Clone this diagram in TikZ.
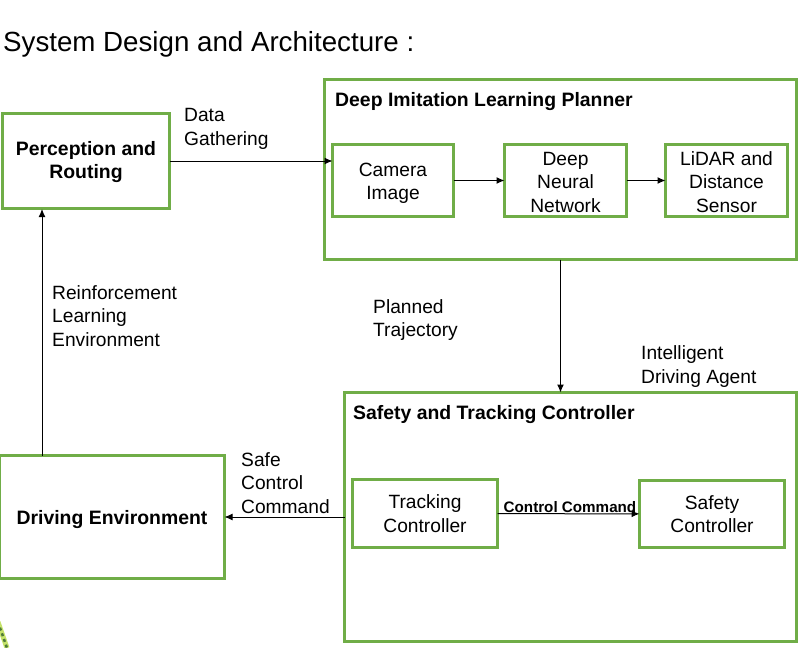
\documentclass[tikz,border=0pt]{standalone}
\usepackage{fontspec}
\setmainfont{Liberation Sans}
\usetikzlibrary{arrows.meta}
\definecolor{boxgreen}{HTML}{70AD47}
\definecolor{logolime}{HTML}{C6E36A}
\definecolor{logodark}{HTML}{4E7A3A}
\newcommand{\lift}{\rule{0pt}{19pt}}
\newcommand{\smalllift}{\rule{0pt}{16.5pt}}
\tikzset{
  box/.style={draw=boxgreen, line width=3pt, inner sep=0pt, outer sep=0pt, align=center, font=\fontsize{19.2}{23.5}\selectfont},
  boldbox/.style={box, font=\fontsize{19.4}{23.5}\selectfont\bfseries},
  lbl/.style={anchor=north west, inner sep=0pt, align=left, font=\fontsize{19.2}{23.5}\selectfont},
  head/.style={anchor=west, inner sep=0pt, font=\fontsize{19.4}{23.5}\selectfont\bfseries},
  conn/.style={-{Latex[length=8pt,width=7pt]}, line width=1pt, black},
}

\begin{document}
\begin{tikzpicture}[x=1pt, y=-1pt]
      \useasboundingbox (0,0) rectangle (806,648);
      \node[anchor=west, inner sep=0pt, font=\fontsize{27.7}{30}\selectfont] (title) at (3, 44) {System Design and Architecture :};
      % boxes
      \node[boldbox, minimum width=167pt, minimum height=95pt] (perception) at (86, 161) {\smalllift Perception and\\Routing};
      \node[box, minimum width=472pt, minimum height=180pt] (planner) at (560.5, 169.5) {};
      \node[box, minimum width=121pt, minimum height=72pt] (camera) at (393, 180.5) {\lift Camera\\Image};
      \node[box, minimum width=122pt, minimum height=72pt] (network) at (565.5, 180.5) {\smalllift Deep\\Neural\\Network};
      \node[box, minimum width=122pt, minimum height=72pt] (lidar) at (726.5, 180.5) {\smalllift LiDAR and\\Distance\\Sensor};
      \node[box, minimum width=452pt, minimum height=249pt] (safety) at (570.5, 517) {};
      \node[box, minimum width=145pt, minimum height=68pt] (tracking) at (425, 513.5) {Tracking\\Controller};
      \node[box, minimum width=145pt, minimum height=67pt] (controller) at (712, 514) {Safety\\Controller};
      \node[boldbox, minimum width=225pt, minimum height=123pt] (driving) at (112, 517) {\lift Driving Environment};
      \coordinate (feedback) at (42, 209);
      % titles and labels
      \node[head] (plannerhead) at (335, 102) {Deep Imitation Learning Planner};
      \node[head] (safetyhead) at (353, 415) {Safety and Tracking Controller};
      \node[lbl] (gathering) at (184, 108.5) {Data\\Gathering};
      \node[lbl] (reinforcement) at (52, 285) {Reinforcement\\Learning\\Environment};
      \node[lbl] (planned) at (373, 299) {Planned\\Trajectory};
      \node[lbl] (agent) at (641, 345.5) {Intelligent\\Driving Agent};
      \node[lbl] (command) at (241, 452) {Safe\\Control\\Command};
      \node[anchor=center, inner sep=0pt, font=\fontsize{15.2}{16}\selectfont\bfseries] (ctrlcmd) at (570, 507) {Control Command};
      % connectors
      \draw[conn] (perception.east) -- (perception.east -| camera.west);
      \draw[conn] (camera) -- (network);
      \draw[conn] (network) -- (lidar);
      \draw[conn] (planner.south) -- (planner.south |- safety.north);
      \draw[conn] (tracking) -- (controller);
      \draw[conn] (driving.east -| safety.west) -- (driving.east);
      \draw[conn] (feedback |- driving.north) -- (feedback);
      % bit of the logo at the corner
      \draw[line width=5pt, draw=logolime] (-2, 622) -- (7, 648);
      \draw[line width=2.5pt, draw=logodark, dash pattern=on 3pt off 3pt] (-2, 622) -- (7, 648);
    \end{tikzpicture}
\end{document}
